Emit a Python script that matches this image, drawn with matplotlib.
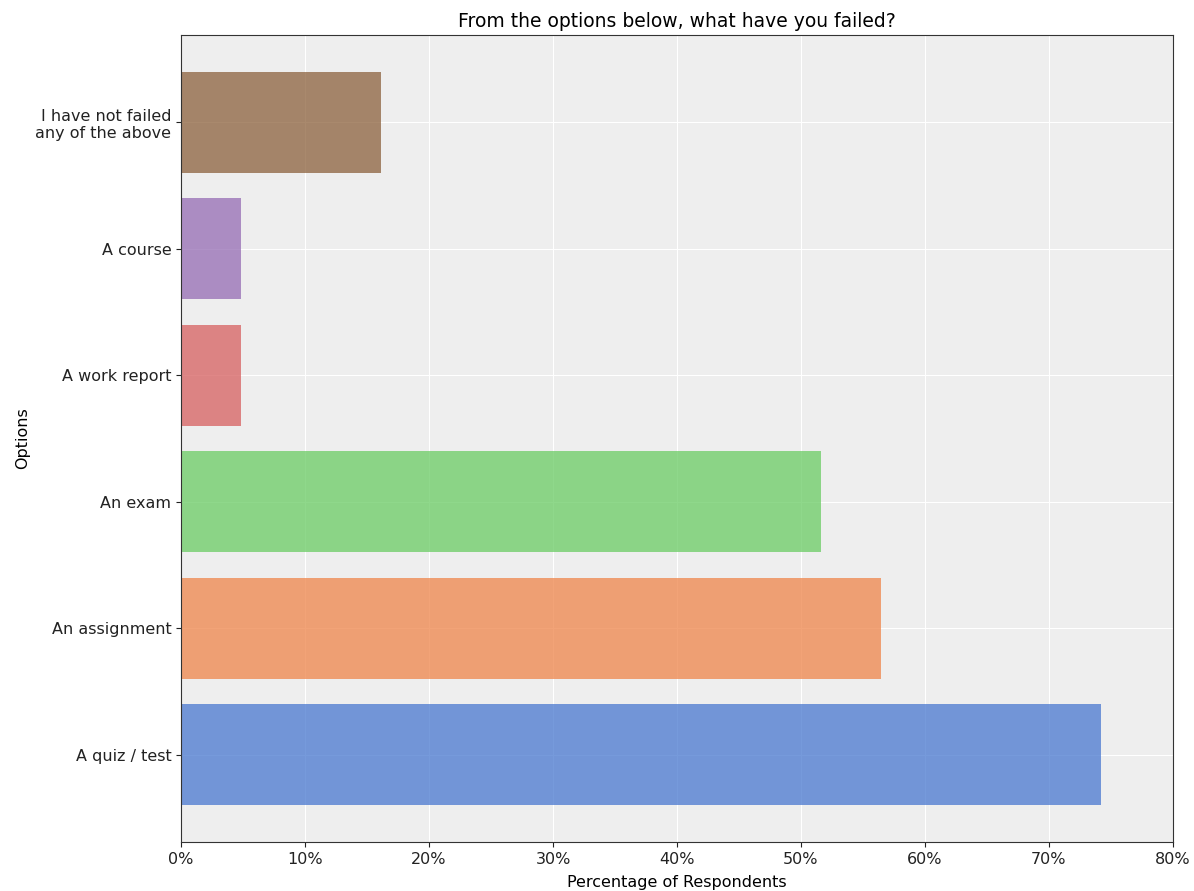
import matplotlib
matplotlib.use("Agg")
import matplotlib.pyplot as plt
from matplotlib.ticker import PercentFormatter

# options, bottom to top
options = ['A quiz / test', 'An assignment', 'An exam', 'A work report',
           'A course', 'I have not failed\nany of the above']
# percentage of respondents
percent = [74.2, 56.45, 51.6, 4.84, 4.84, 16.13]
colors = ['#4878d0', '#ee854a', '#6acc64', '#d65f5f', '#956cb4', '#8c613c']

fig = plt.figure(figsize=(11.94, 8.91), dpi=100)
ax = fig.add_axes([0.1516, 0.055, 0.8308, 0.9057])
ax.set_facecolor('#eeeeee')
ax.set_axisbelow(True)
ax.grid(color='white', linewidth=0.8)

ax.barh(options, percent, height=0.8, color=colors, alpha=0.75)

ax.set_xlim(0, 80)
ax.xaxis.set_major_formatter(PercentFormatter(decimals=0))
ax.tick_params(labelsize=11.5, colors='#222222')
for s in ax.spines.values():
    s.set_color('#333333')

ax.set_title('From the options below, what have you failed?', fontsize=13.5)
ax.set_xlabel('Percentage of Respondents', fontsize=11.5, labelpad=6)
ax.set_ylabel('Options', fontsize=11.5)

fig.savefig('out.png', dpi=100)
